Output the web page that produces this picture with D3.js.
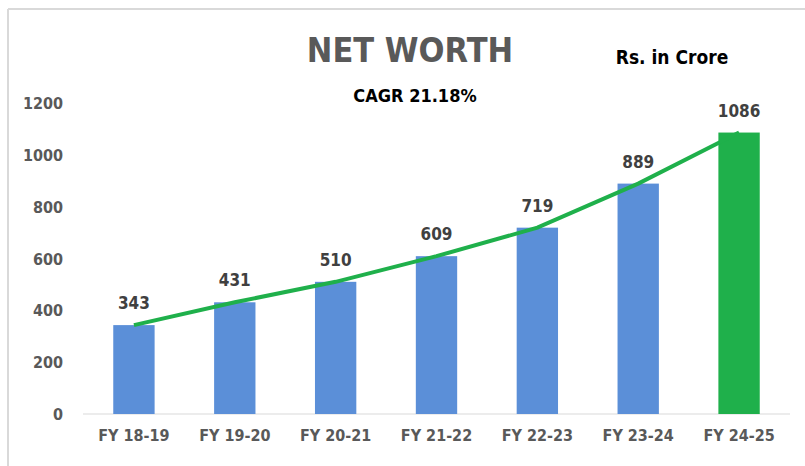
<!DOCTYPE html>
<html>
<head>
<meta charset="utf-8">
<script src="https://cdn.jsdelivr.net/npm/d3@7"></script>
<style>
  body { margin: 0; background: #fff; }
  svg { font-family: "Liberation Sans Narrow", "DejaVu Sans Condensed", sans-serif; font-weight: bold; }
</style>
</head>
<body>
<svg id="chart"></svg>
<script>
const years = ["FY 18-19", "FY 19-20", "FY 20-21", "FY 21-22", "FY 22-23", "FY 23-24", "FY 24-25"];
const netWorth = [343, 431, 510, 609, 719, 889, 1086];
const yTicks = [0, 200, 400, 600, 800, 1000, 1200];

const width = 805, height = 466;
const margin = {top: 103, right: 15, bottom: 52, left: 83};

const svg = d3.select("#chart")
    .attr("width", width)
    .attr("height", height);

// frame lines (left + top)
svg.append("line")
    .attr("x1", 8).attr("x2", 8).attr("y1", 9).attr("y2", height)
    .attr("stroke", "#d9d9d9").attr("stroke-width", 2);
svg.append("line")
    .attr("x1", 8).attr("x2", width).attr("y1", 9).attr("y2", 9)
    .attr("stroke", "#d9d9d9").attr("stroke-width", 2);

const x = d3.scaleBand()
    .domain(years)
    .range([margin.left, width - margin.right])
    .paddingInner(0.59)
    .paddingOuter(0.3);

const y = d3.scaleLinear()
    .domain([0, 1200])
    .range([height - margin.bottom, margin.top]);

// y axis labels
const yAxis = d3.axisLeft(y).tickValues(yTicks).tickFormat(d3.format("d")).tickSize(0).tickPadding(0);
svg.append("g")
    .attr("transform", `translate(63,0)`)
    .call(yAxis)
    .attr("font-family", null)
    .attr("font-size", null)
    .call(g => g.select(".domain").remove())
    .call(g => g.selectAll("text")
        .attr("fill", "#595959")
        .attr("font-size", 16)
        .attr("dy", "0.35em"));

// baseline
svg.append("line")
    .attr("x1", margin.left).attr("x2", width - margin.right)
    .attr("y1", y(0)).attr("y2", y(0))
    .attr("stroke", "#d9d9d9").attr("stroke-width", 1);

// x axis labels
const xAxis = d3.axisBottom(x).tickSize(0).tickPadding(16);
svg.append("g")
    .attr("transform", `translate(0,${y(0)})`)
    .call(xAxis)
    .attr("font-family", null)
    .attr("font-size", null)
    .call(g => g.select(".domain").remove())
    .call(g => g.selectAll("text")
        .attr("fill", "#595959")
        .attr("font-size", 16));

// bars
svg.selectAll(".bar")
    .data(netWorth)
    .join("rect")
    .attr("class", "bar")
    .attr("x", (d, i) => x(years[i]))
    .attr("width", x.bandwidth())
    .attr("y", d => y(d))
    .attr("height", d => y(0) - y(d))
    .attr("fill", (d, i) => i === years.length - 1 ? "#1fb04b" : "#5b8fd8");

// trend line through bar tops
const line = d3.line()
    .x((d, i) => x(years[i]) + x.bandwidth() / 2)
    .y(d => y(d));
svg.append("path")
    .datum(netWorth)
    .attr("d", line)
    .attr("fill", "none")
    .attr("stroke", "#1fb04b")
    .attr("stroke-width", 4);

// value labels
svg.selectAll(".val")
    .data(netWorth)
    .join("text")
    .attr("class", "val")
    .attr("x", (d, i) => x(years[i]) + x.bandwidth() / 2)
    .attr("y", d => y(d) - 16)
    .attr("text-anchor", "middle")
    .attr("fill", "#404040")
    .attr("font-size", 17)
    .text(d => d);

// titles
svg.append("text")
    .attr("x", 410).attr("y", 62)
    .attr("text-anchor", "middle")
    .attr("fill", "#595959")
    .attr("font-size", 34)
    .text("NET WORTH");
svg.append("text")
    .attr("x", 672).attr("y", 64)
    .attr("text-anchor", "middle")
    .attr("fill", "#000")
    .attr("font-size", 19)
    .text("Rs. in Crore");
svg.append("text")
    .attr("x", 415).attr("y", 102)
    .attr("text-anchor", "middle")
    .attr("fill", "#000")
    .attr("font-size", 18)
    .text("CAGR 21.18%");
</script>
</body>
</html>
